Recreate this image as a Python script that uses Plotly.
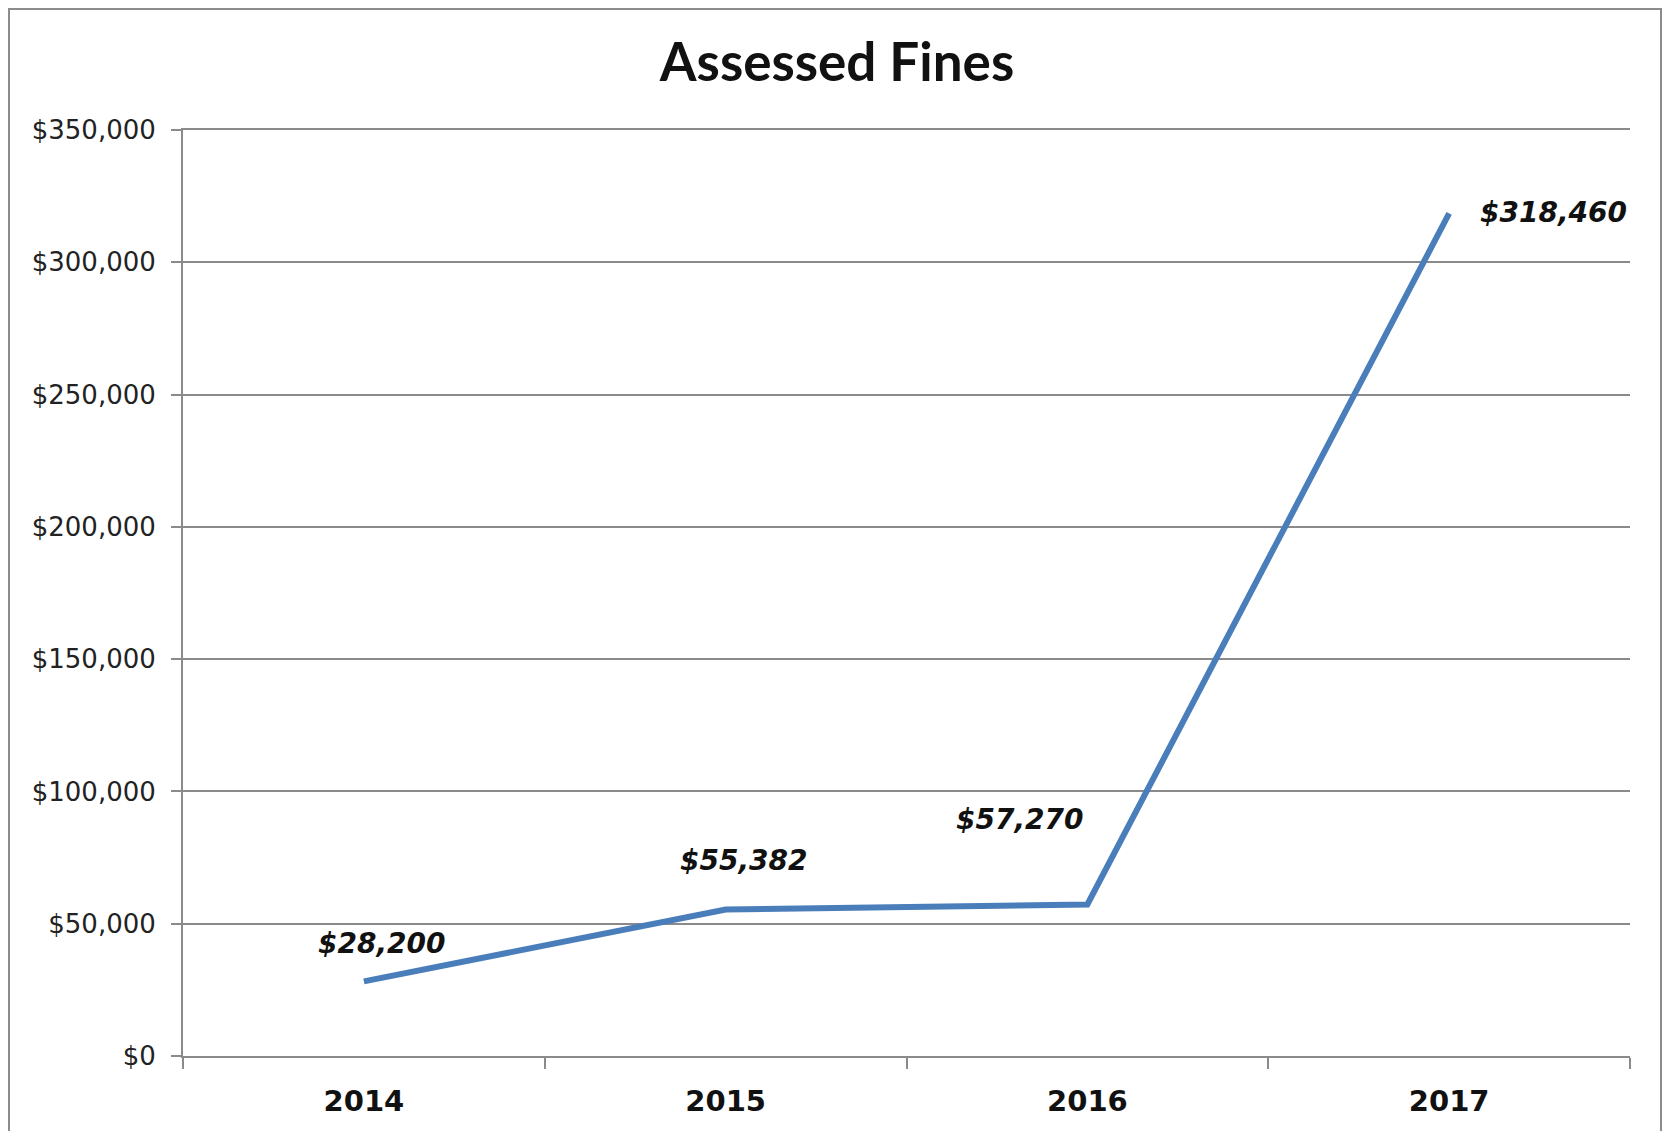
import plotly.graph_objects as go

years = ["2014", "2015", "2016", "2017"]
fines = [28200, 55382, 57270, 318460]
label_text = ["$28,200", "$55,382", "$57,270", "$318,460"]
label_dx = [18, 18, -67, 104]
label_dy = [38, 49, 85, 1]
y_ticks = [0, 50000, 100000, 150000, 200000, 250000, 300000, 350000]
y_tick_text = ["$0", "$50,000", "$100,000", "$150,000", "$200,000", "$250,000", "$300,000", "$350,000"]

W, H = 1654, 1123
L, R, T, B = 175, 32, 122, 75
PW, PH = W - L - R, H - T - B

fig = go.Figure()
fig.add_trace(go.Scatter(
    x=years, y=fines, mode="lines",
    line=dict(color="#4A7EBB", width=6),
    showlegend=False, hoverinfo="skip",
))

for i, (yv, t, dx, dy) in enumerate(zip(fines, label_text, label_dx, label_dy)):
    fig.add_annotation(
        x=i, y=yv, xref="x", yref="y",
        text="<b><i>" + t + "</i></b>", showarrow=False,
        xshift=dx, yshift=dy,
        font=dict(family="DejaVu Sans", size=28, color="#111111"),
    )

grid_col = "#8A8A8A"
frame_col = "#8C8C8C"
fig.update_layout(
    width=W, height=H,
    margin=dict(l=L, r=R, t=T, b=B),
    paper_bgcolor="white", plot_bgcolor="white",
    title=dict(
        text="<b>Assessed Fines</b>", x=829 / W, xanchor="center",
        y=1 - 54 / H, yanchor="middle",
        font=dict(family="Lato", size=53, color="#111111"),
    ),
    xaxis=dict(
        type="category", tickson="boundaries",
        showline=True, linecolor=grid_col, linewidth=2, mirror=True,
        ticks="outside", ticklen=11, tickwidth=2, tickcolor=grid_col,
        showgrid=False,
        tickfont=dict(family="DejaVu Sans", size=29, color="#111111", weight="bold"),
        ticklabelstandoff=18,
        range=[-0.5, 3.5], fixedrange=True,
    ),
    yaxis=dict(
        range=[0, 350000], tickvals=y_ticks, ticktext=y_tick_text,
        showline=True, linecolor=grid_col, linewidth=2,
        ticks="outside", ticklen=10, tickwidth=2, tickcolor=grid_col,
        showgrid=True, gridcolor=grid_col, gridwidth=2,
        zeroline=False,
        tickfont=dict(family="DejaVu Sans", size=26, color="#222222"),
        ticklabelstandoff=10,
    ),
    shapes=[
        dict(type="line", xref="paper", yref="paper",
             x0=-(L - 1) / PW, x1=-(L - 1) / PW, y0=-B / PH, y1=(PH + T) / PH,
             line=dict(color=frame_col, width=2), layer="below"),
        dict(type="line", xref="paper", yref="paper",
             x0=-L / PW, x1=(PW + R) / PW, y0=(PH + T - 1) / PH, y1=(PH + T - 1) / PH,
             line=dict(color=frame_col, width=2), layer="below"),
        dict(type="line", xref="paper", yref="paper",
             x0=(PW + R - 1) / PW, x1=(PW + R - 1) / PW, y0=-B / PH, y1=(PH + T) / PH,
             line=dict(color=frame_col, width=2), layer="below"),
    ],
)

fig.write_html("out.html")
